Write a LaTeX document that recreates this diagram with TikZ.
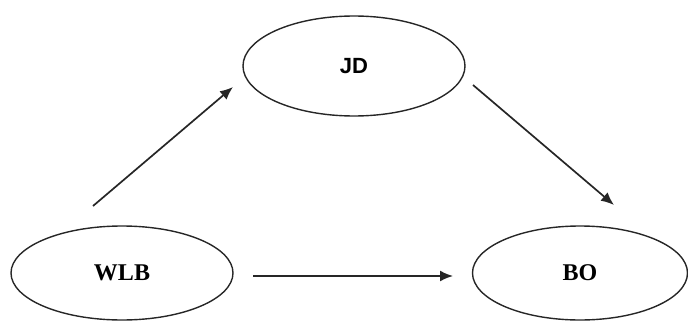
\documentclass[tikz,border=0pt]{standalone}
\usepackage{fontspec}
\setmainfont{Liberation Serif}
\newfontfamily\labelsans{Liberation Sans}
\usetikzlibrary{shapes.geometric,arrows.meta}
\begin{document}
\begin{tikzpicture}[x=1pt,y=1pt,
  var/.style={ellipse,draw=black!85,line width=1.4pt,inner sep=0pt},
  link/.style={-{Latex[length=13pt,width=11pt]},line width=1.7pt,draw=black!85}]
  \useasboundingbox (0,0) rectangle (688,322);
  % latent variables
  \node[var,minimum width=222,minimum height=100] (jd) at (354,256)
    {\fontsize{22}{24}\selectfont\labelsans\bfseries JD};
  \node[var,minimum width=222,minimum height=94] (wlb) at (122,49)
    {\raisebox{-3pt}{\fontsize{24}{26}\selectfont\bfseries WLB}};
  \node[var,minimum width=215,minimum height=94] (bo) at (580,49)
    {\raisebox{-3pt}{\fontsize{24}{26}\selectfont\bfseries BO}};
  % free ends of the paths
  \coordinate (wlbUp) at (93,116);
  \coordinate (jdIn) at (233,235);
  \coordinate (jdOut) at (473,237);
  \coordinate (boIn) at (614,117);
  \coordinate (wlbRight) at (253,46);
  \coordinate (boLeft) at (453,46);
  % paths
  \draw[link] (wlbUp) -- (jdIn);
  \draw[link] (jdOut) -- (boIn);
  \draw[link] (wlbRight) -- (boLeft);
\end{tikzpicture}
\end{document}
